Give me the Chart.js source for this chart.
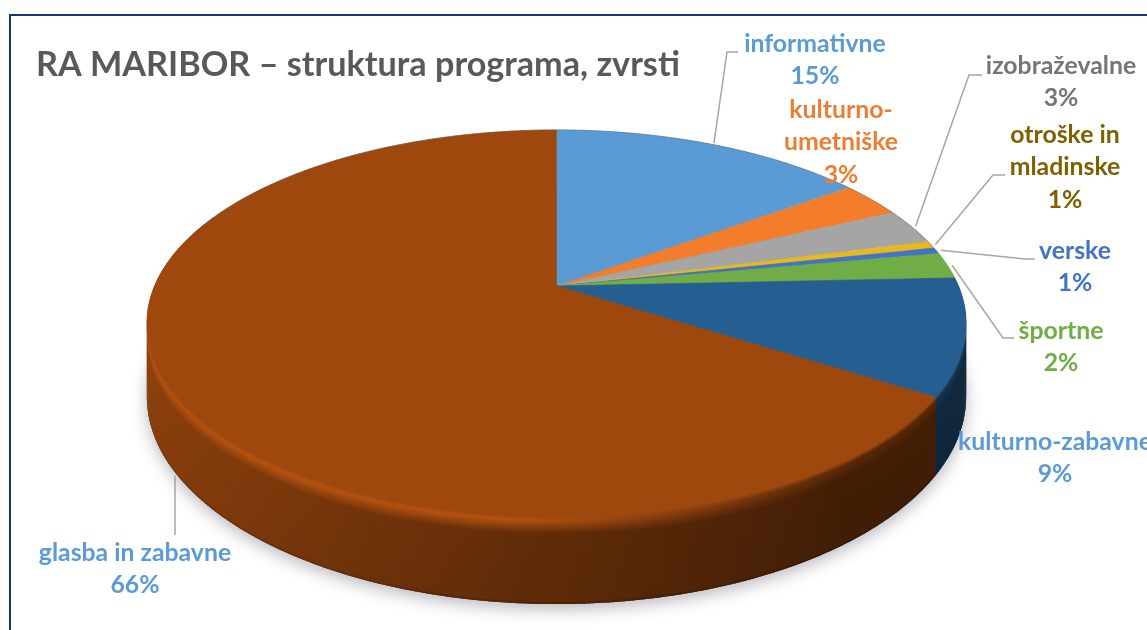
<!DOCTYPE html>
<html>
<head>
<meta charset="utf-8">
<style>
html,body{margin:0;padding:0;background:#fff;overflow:hidden}
canvas{display:block;filter:blur(0.4px)}
</style>
<script src="https://cdn.jsdelivr.net/npm/chart.js@4/dist/chart.umd.js"></script>
</head>
<body>
<canvas id="c" width="1147" height="630"></canvas>
<script>
const titleText = 'RA MARIBOR – struktura programa, zvrsti';
const categories = ['informativne','kulturno-umetniške','izobraževalne','otroške in mladinske','verske','športne','kulturno-zabavne','glasba in zabavne'];
const values = [15, 3, 3, 0.6, 0.5, 2.2, 9.7, 66];
const percentLabels = ['15%','3%','3%','1%','1%','2%','9%','66%'];
const sliceColors = ['#5B9BD5','#F47D2C','#A5A5A5','#E8B820','#4472C4','#70AD47','#255E91','#9E480E'];
const labelColors = ['#5B9BD5','#ED7D31','#757575','#7F6000','#4472C4','#70AD47','#5B9BD5','#5B9BD5'];
const labelLines = [['informativne'],['kulturno-','umetniške'],['izobraževalne'],['otroške in','mladinske'],['verske'],['športne'],['kulturno-zabavne'],['glasba in zabavne']];
const labelCx = [815,841,1061,1065,1075,1061,1055,135];
const labelTop = [44,110,66,135,251,331,442,553];
const labelLineGap = 32.5;
const leaderElbows = [
  [[727,52],[738,52]],
  null,
  [[969,75],[982,75]],
  [[993,175],[1005,175]],
  [[1025,259],[1035,259]],
  [[1003,338],[1014,338]],
  null,
  [[175,535]]
];

const view = {cx:556.5, cy:286, R:402, Rk:186, p:0.192, depth:71};
function project(a, r, d){
  const u=Math.cos(a)*r, v=Math.sin(a)*r, s=1/(1-view.p*v);
  return {x:view.cx+view.R*u*s, y:view.cy+view.Rk*v*s+(d||0)*s};
}
function rgb(hex,f){
  const n=parseInt(hex.slice(1),16);
  const c=[(n>>16)&255,(n>>8)&255,n&255].map(x=>Math.max(0,Math.min(255,Math.round(x*f))));
  return 'rgb('+c.join(',')+')';
}
function traceArc(ctx,a0,a1,d){
  const n=Math.max(2,Math.ceil((a1-a0)/0.01));
  for(let i=0;i<=n;i++){
    const p=project(a0+(a1-a0)*i/n,1,d);
    ctx.lineTo(p.x,p.y);
  }
}
const pie3d = {
  id:'pie3d',
  beforeDatasetDraw(chart,args){
    const ctx=chart.ctx, arcs=chart.getDatasetMeta(args.index).data, colors=chart.data.datasets[args.index].backgroundColor;
    // soft shadow under the disc
    ctx.save();
    ctx.shadowColor='rgba(70,70,90,0.38)'; ctx.shadowBlur=16; ctx.shadowOffsetY=5;
    ctx.fillStyle='#777';
    ctx.beginPath(); traceArc(ctx,0,Math.PI*2,view.depth); ctx.closePath(); ctx.fill();
    ctx.restore();
    // side wall, back to front
    const segs=[];
    arcs.forEach((arc,i)=>{
      const step=0.01, n=Math.max(1,Math.ceil((arc.endAngle-arc.startAngle)/step)), da=(arc.endAngle-arc.startAngle)/n;
      for(let k=0;k<n;k++) segs.push({a0:arc.startAngle+k*da,a1:arc.startAngle+(k+1)*da,color:colors[i]});
    });
    segs.sort((s,t)=>Math.sin((s.a0+s.a1)/2)-Math.sin((t.a0+t.a1)/2));
    segs.forEach(g=>{
      const m=(g.a0+g.a1)/2, u=Math.cos(m);
      if(Math.sin(m)<-0.35) return;
      const tm=project(m,1,0), bm=project(m,1,view.depth);
      const base=Math.max(0.42,0.6-0.3*u);
      const hi=Math.max(0.55,1.14-Math.max(0,u+0.1)*0.8);
      const gr=ctx.createLinearGradient(0,tm.y,0,bm.y);
      gr.addColorStop(0,rgb(g.color,1));
      gr.addColorStop(0.05,rgb(g.color,hi));
      gr.addColorStop(0.2,rgb(g.color,base));
      gr.addColorStop(0.96,rgb(g.color,base*0.97));
      gr.addColorStop(1,rgb(g.color,base*0.75));
      const e=0.004;
      const A=project(g.a0-e,1,0),B=project(g.a1+e,1,0),C=project(g.a1+e,1,view.depth),D=project(g.a0-e,1,view.depth);
      ctx.fillStyle=gr;
      ctx.beginPath();ctx.moveTo(A.x,A.y);ctx.lineTo(B.x,B.y);ctx.lineTo(C.x,C.y);ctx.lineTo(D.x,D.y);ctx.closePath();ctx.fill();
    });
    // top face
    arcs.forEach((arc,i)=>{
      ctx.fillStyle=colors[i]; ctx.strokeStyle=colors[i]; ctx.lineWidth=0.6;
      ctx.beginPath(); ctx.moveTo(view.cx,view.cy);
      traceArc(ctx,arc.startAngle,arc.endAngle,0);
      ctx.closePath(); ctx.fill(); ctx.stroke();
    });
    // thin grey rim along the back edge
    ctx.strokeStyle='rgba(80,80,100,0.4)'; ctx.lineWidth=1;
    ctx.beginPath(); traceArc(ctx,-Math.PI/2-1.3,-Math.PI/2+1.35,0); ctx.stroke();
    return false;
  },
  afterDatasetsDraw(chart){
    const ctx=chart.ctx, arcs=chart.getDatasetMeta(0).data;
    // frame
    ctx.save();
    ctx.strokeStyle='#17367A'; ctx.lineWidth=2;
    ctx.beginPath(); ctx.moveTo(10,630); ctx.lineTo(10,15); ctx.lineTo(1147,15); ctx.stroke();
    // leader lines
    ctx.strokeStyle='#A6A6A6'; ctx.lineWidth=1.5;
    arcs.forEach((arc,i)=>{
      const el=leaderElbows[i]; if(!el) return;
      const m=(arc.startAngle+arc.endAngle)/2;
      const a=project(m,1.012,Math.sin(m)>0?view.depth+10:0);
      const sx=i===7?el[0][0]:a.x;
      ctx.beginPath(); ctx.moveTo(sx,a.y);
      el.forEach(p=>ctx.lineTo(p[0],p[1]));
      ctx.stroke();
    });
    // labels
    ctx.font='bold 24.8px Lato'; ctx.textAlign='center'; ctx.textBaseline='middle';
    categories.forEach((c,i)=>{
      ctx.fillStyle=labelColors[i];
      const lines=labelLines[i].concat(percentLabels[i]);
      lines.forEach((t,k)=>ctx.fillText(t,labelCx[i],labelTop[i]+k*labelLineGap));
    });
    ctx.restore();
  }
};
new Chart(document.getElementById('c'),{
  type:'pie',
  data:{labels:categories,datasets:[{data:values,backgroundColor:sliceColors,borderWidth:0}]},
  options:{
    responsive:false,animation:false,
    layout:{padding:{left:36,top:0}},
    plugins:{
      legend:{display:false},tooltip:{enabled:false},
      title:{display:true,text:titleText,align:'start',color:'#595959',font:{family:'Lato',size:34.2,weight:'bold'},padding:{top:44,bottom:10}}
    }
  },
  plugins:[pie3d]
});
</script>
</body>
</html>
